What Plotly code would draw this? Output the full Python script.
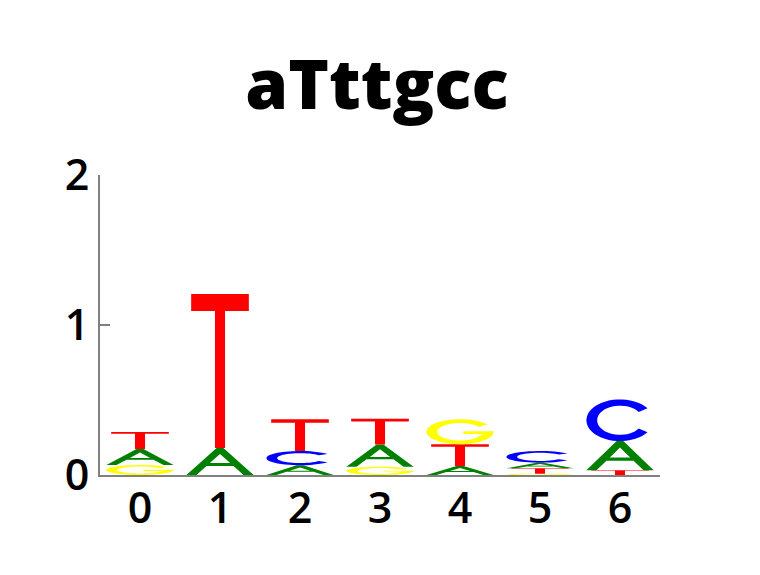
import numpy as np
import plotly.graph_objects as go

# ---- data ----
positions = [0, 1, 2, 3, 4, 5, 6]
letters = ["A", "C", "G", "T"]
height_A = [0.107, 0.180, 0.065, 0.149, 0.060, 0.037, 0.195]
height_C = [0.000, 0.000, 0.095, 0.000, 0.000, 0.078, 0.278]
height_G = [0.067, 0.000, 0.000, 0.055, 0.167, 0.009, 0.000]
height_T = [0.113, 1.027, 0.211, 0.171, 0.145, 0.036, 0.031]
title_text = "aTttgcc"
y_ticks = [0, 1, 2]

colors = {"A": "#008000", "C": "#0000ff", "G": "#ffff00", "T": "#ff0000"}
heights = {"A": height_A, "C": height_C, "G": height_G, "T": height_T}

GLYPH_W = 0.84  # fraction of a column


def ellipse_pts(cx, cy, rx, ry, a0, a1, n=40):
    t = np.radians(np.linspace(a0, a1, n))
    return list(zip(cx + rx * np.cos(t), cy + ry * np.sin(t)))


def glyph_unit(letter):
    """Return list of polygons (unit box coords)."""
    if letter == "A":
        s = 0.45
        lw = 0.15
        outer = [(0, 0), (s, 1), (1 - s, 1), (1, 0), (1 - lw, 0),
                 (1 - lw - s * 0.33, 0.33), (lw + s * 0.33, 0.33), (lw, 0)]
        yt = (1 - 2 * lw) / (2 * s)
        hole = [(lw + s * 0.44, 0.44), (0.5, yt), (1 - lw - s * 0.44, 0.44)]
        return [outer, hole]
    if letter == "T":
        return [[(0.071, 1), (0.929, 1), (0.929, 0.89), (0.575, 0.89),
                 (0.575, 0), (0.425, 0), (0.425, 0.89), (0.071, 0.89)]]
    if letter == "C":
        a = 35
        outer = ellipse_pts(0.5, 0.5, 0.5, 0.5, a, 360 - a)
        inner = ellipse_pts(0.5, 0.5, 0.34, 0.35, 360 - a, a)
        return [outer + inner]
    if letter == "G":
        a = 35
        outer = ellipse_pts(0.5, 0.5, 0.5, 0.5, a, 360)
        bar = [(1.0, 0.52), (0.55, 0.52), (0.55, 0.41), (0.86, 0.41)]
        inner = ellipse_pts(0.5, 0.5, 0.34, 0.35, 340, a)
        return [outer + bar + inner]
    return []


def path_for(letter, xc, y0, h):
    d = ""
    for poly in glyph_unit(letter):
        pts = [(xc - GLYPH_W / 2 + px * GLYPH_W, y0 + py * h) for px, py in poly]
        d += "M" + " L".join(f"{x:.5f},{y:.5f}" for x, y in pts) + " Z "
    return d


shapes = []
for i, xc in enumerate(positions):
    stack = sorted([(heights[L][i], L) for L in letters if heights[L][i] > 0])
    y0 = 0.0
    for h, L in stack:
        shapes.append(dict(type="path", xref="x", yref="y", path=path_for(L, xc, y0, h),
                           fillcolor=colors[L], fillrule="evenodd",
                           line=dict(width=0), layer="above"))
        y0 += h

fig = go.Figure()
fig.add_trace(go.Scatter(x=positions, y=[0] * len(positions), mode="markers",
                         marker=dict(opacity=0), hoverinfo="skip", showlegend=False))

font_family = "Open Sans"
fig.update_layout(
    width=760, height=575,
    margin=dict(l=92, r=108, t=167, b=108),
    paper_bgcolor="white", plot_bgcolor="white",
    shapes=shapes,
    title=dict(text=title_text, x=369 / 760, xanchor="center",
               y=1 - 77 / 575, yanchor="middle", yref="container",
               font=dict(family=font_family, size=69, color="black", weight=800)),
    xaxis=dict(range=[-0.5, 6.5], tickvals=positions, ticktext=[str(p) for p in positions],
               showgrid=False, zeroline=False, showline=True, linecolor="#808080", linewidth=2,
               ticks="", ticklabelstandoff=-6,
               tickfont=dict(family=font_family, size=43, color="black", weight=600)),
    yaxis=dict(range=[0, 2], tickvals=y_ticks, ticktext=[str(v) for v in y_ticks],
               showgrid=False, zeroline=False, showline=True, linecolor="#808080", linewidth=2,
               ticks="inside", ticklen=10, tickwidth=2, tickcolor="#808080",
               tickfont=dict(family=font_family, size=43, color="black", weight=600)),
)

fig.write_html("out.html")
